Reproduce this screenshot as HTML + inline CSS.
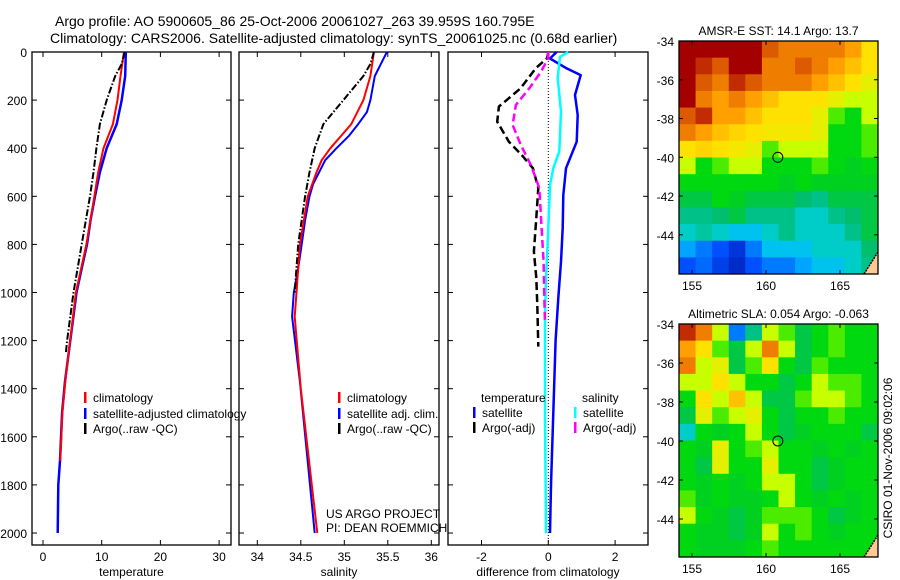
<!DOCTYPE html>
<html><head><meta charset="utf-8">
<style>
html,body{margin:0;padding:0;background:#fff;}
svg{display:block;font-family:"Liberation Sans",sans-serif;}
text{fill:#000;}
</style></head>
<body>
<svg id="fig" width="900" height="580" viewBox="0 0 900 580" xmlns="http://www.w3.org/2000/svg">
<text x="55" y="26" font-size="14">Argo profile: AO 5900605_86 25-Oct-2006 20061027_263 39.959S 160.795E</text>
<text x="50" y="43" font-size="14">Climatology: CARS2006. Satellite-adjusted climatology: synTS_20061025.nc (0.68d earlier)</text>
<g id="layer"></g>
</svg>
<script>
// ---------- Temperature panel data ----------
const tDepthBlue = [0,100,200,300,400,500,600,700,800,900,1000,1370,1500,1700,1800,2000];
const tBlue      = [14.1,14.0,13.4,12.55,10.85,9.7,8.86,8.1,7.5,6.6,5.7,3.75,3.25,2.9,2.6,2.5];
const tDepthRed  = [0,100,200,300,400,500,600,800,1000,1370,1500,1700];
const tRed       = [13.8,13.2,12.7,11.9,10.3,9.4,8.75,7.4,5.6,3.8,3.3,2.95];
const tDepthArgo = [0,50,100,200,300,400,500,600,800,1000,1200,1250];
const tArgo      = [13.9,13.4,12.3,10.85,9.7,9.1,8.6,8.0,6.6,5.2,4.1,3.9];
const tTicks = [0,10,20,30];
const depthTicks = [0,200,400,600,800,1000,1200,1400,1600,1800,2000];
// ---------- Salinity panel data ----------
const sDepthBlue = [0,100,200,250,300,350,400,450,500,550,600,700,800,900,1000,1100,1370,2000];
const sBlue      = [35.49,35.35,35.30,35.26,35.16,35.05,34.91,34.78,34.71,34.64,34.60,34.55,34.51,34.47,34.42,34.40,34.49,34.66];
const sDepthRed  = [0,100,200,300,400,450,500,600,800,1000,1100,1400,2000];
const sRed       = [35.34,35.30,35.22,35.08,34.84,34.74,34.68,34.58,34.49,34.45,34.43,34.5,34.69];
const sDepthArgo = [0,50,100,200,300,400,500,600,800,1000];
const sArgo      = [35.34,35.30,35.22,34.99,34.76,34.66,34.60,34.55,34.47,34.43];
const sTicks = [34,34.5,35,35.5,36];
// ---------- Difference panel data ----------
const dDepthTS = [0,27,68,96,179,262,373,442,483,595,732,872,1023,1200,1500,1800,2000];
const dTSat    = [0.25,0.05,0.55,0.97,0.8,0.88,0.85,0.65,0.53,0.45,0.43,0.38,0.3,0.22,0.15,0.08,0.05];
const dDepthSS = [0,20,108,248,414,483,553,732,940,1100,1500,2000];
const dSSat    = [0.6,0.35,0.28,0.38,0.33,0.15,0.05,0,-0.07,-0.1,-0.1,-0.07];
const dDepthTA = [0,25,68,151,227,290,373,428,483,566,690,830,940,1052,1225];
const dTArgo   = [0,-0.03,-0.38,-0.83,-1.48,-1.53,-1.18,-0.8,-0.46,-0.3,-0.36,-0.43,-0.36,-0.33,-0.3];
const dDepthSA = [0,25,82,151,220,303,387,470,566,732,872,1023,1128];
const dSArgo   = [0,0,-0.22,-0.57,-0.97,-1.07,-0.82,-0.52,-0.27,-0.2,-0.14,-0.12,-0.1];
const dTicks = [-2,0,2];
// ---------- Map data (12 cols x 14 rows, normalized colour value) ----------
const sstGrid = [
[1,1,1,1,1,.9,.85,.85,.85,.85,.8,.7],
[1,.95,.9,1,1,.85,.85,.9,.85,.8,.75,.7],
[1,.9,.85,.95,.9,.85,.85,.85,.8,.75,.7,.65],
[1,.85,.8,.85,.8,.75,.7,.7,.7,.65,.6,.6],
[.9,.95,.8,.8,.75,.7,.7,.7,.65,.55,.5,.6],
[.85,.8,.75,.72,.7,.68,.68,.68,.65,.5,.5,.55],
[.7,.72,.7,.68,.65,.55,.6,.6,.6,.5,.5,.55],
[.6,.5,.55,.6,.6,.5,.5,.5,.55,.5,.48,.5],
[.5,.5,.5,.5,.5,.5,.48,.5,.48,.48,.48,.48],
[.45,.45,.5,.48,.45,.45,.45,.42,.4,.45,.45,.45],
[.4,.4,.42,.45,.4,.4,.4,.35,.35,.4,.42,.45],
[.35,.38,.35,.3,.3,.35,.4,.35,.35,.35,.4,.45],
[.25,.2,.15,.1,.2,.3,.3,.3,.35,.35,.35,.42],
[.15,.18,.12,.08,.15,.2,.2,.25,.3,.3,.35,.4]];
const slaGrid = [
[.95,.85,.6,.2,.4,.6,.55,.45,.5,.55,.5,.5],
[.8,.7,.55,.45,.6,.85,.6,.45,.5,.55,.5,.5],
[.85,.6,.65,.45,.55,.7,.5,.45,.55,.5,.5,.5],
[.6,.6,.7,.6,.5,.5,.45,.5,.6,.55,.55,.5],
[.5,.7,.6,.75,.6,.45,.45,.55,.6,.6,.55,.5],
[.45,.65,.55,.6,.65,.5,.45,.5,.5,.55,.5,.5],
[.35,.5,.48,.5,.6,.5,.45,.48,.5,.5,.5,.45],
[.5,.48,.65,.5,.55,.6,.5,.5,.48,.5,.48,.5],
[.5,.45,.65,.5,.5,.65,.5,.5,.45,.48,.5,.5],
[.5,.48,.5,.48,.5,.6,.6,.5,.45,.48,.5,.5],
[.55,.48,.5,.48,.48,.5,.6,.5,.48,.5,.48,.5],
[.6,.5,.48,.45,.48,.55,.55,.55,.5,.45,.48,.5],
[.5,.48,.48,.45,.48,.6,.5,.55,.5,.48,.5,.5],
[.5,.48,.48,.48,.5,.55,.5,.5,.5,.5,.5,.5]];
const lonTicks = [155,160,165];
const latTicks = [-34,-36,-38,-40,-42,-44];
const argoLon = 160.8, argoLat = -40;

const NS='http://www.w3.org/2000/svg';
const L=document.getElementById('layer');
function mk(tag,attrs,parent){const e=document.createElementNS(NS,tag);for(const k in attrs)e.setAttribute(k,attrs[k]);(parent||L).appendChild(e);return e;}
function txt(x,y,s,size,anchor,parent){const t=mk('text',{x:x,y:y,'font-size':size||12,'text-anchor':anchor||'start'},parent);t.textContent=s;return t;}

const yD = d => 52 + d*0.2405;
function panel(name,x0,x1,xs,ticks,fmt,showY,xlabel){
  const g=mk('g',{});
  
  
  mk('rect',{x:x0,y:52,width:x1-x0,height:493,fill:'none',stroke:'#000','stroke-width':1.3},g);
  ticks.forEach(v=>{const x=xs(v);mk('line',{x1:x,x2:x,y1:545,y2:540,stroke:'#000'},g);mk('line',{x1:x,x2:x,y1:52,y2:57,stroke:'#000'},g);
    const t=txt(x,561,fmt(v),12,'middle',g);});
  depthTicks.forEach(d=>{const y=yD(d);mk('line',{x1:x0,x2:x0+5,y1:y,y2:y,stroke:'#000'},g);mk('line',{x1:x1,x2:x1-5,y1:y,y2:y,stroke:'#000'},g);
    if(showY){const t=txt(27,y+5,String(d),12,'end',g);}});
  const xl=txt((x0+x1)/2,576,xlabel,12,'middle',g);
  
  
  return g;
}
function series(name,depths,vals,xs,color,w,dash){
  const pts=depths.map((d,i)=>xs(vals[i]).toFixed(1)+','+yD(d).toFixed(1)).join(' ');
  const p=mk('polyline',{points:pts,fill:'none',stroke:color,'stroke-width':w,'stroke-dasharray':dash||'none','stroke-linejoin':'round'});
  
  
}
function legend(name,x,y,color,label){
  const g=mk('g',{});
  
  
  mk('rect',{x:x,y:y-10,width:2.5,height:11,fill:color},g);
  txt(x+9,y,label,12,'start',g);
}

// Temperature
const xT = v => 43 + v*5.87;
panel('temperature-panel',32,231,xT,tTicks,v=>String(v),true,'temperature');
series('temp-satellite-adjusted-climatology',tDepthBlue,tBlue,xT,'#0000ff',2.5);
series('temp-climatology',tDepthRed,tRed,xT,'#ff0000',2);
series('temp-argo-raw',tDepthArgo,tArgo,xT,'#000',2,'7,2,1.5,2');
legend('legend-climatology',84,402,'#ff0000','climatology');
legend('legend-satellite-adjusted-climatology',84,418,'#0000ff','satellite-adjusted climatology');
legend('legend-argo-raw',84,433,'#000','Argo(..raw -QC)');

// Salinity
const xS = v => 257.3 + (v-34)*87;
panel('salinity-panel',239,439,xS,sTicks,v=>String(v),false,'salinity');
series('sal-satellite-adjusted-climatology',sDepthBlue,sBlue,xS,'#0000ff',2);
series('sal-climatology',sDepthRed,sRed,xS,'#ff0000',2);
series('sal-argo-raw',sDepthArgo,sArgo,xS,'#000',2,'7,2,1.5,2');
legend('legend-sal-climatology',338,402,'#ff0000','climatology');
legend('legend-sal-satellite',338,418,'#0000ff','satellite adj. clim.');
legend('legend-sal-argo',338,433,'#000','Argo(..raw -QC)');
const c1=txt(326,518,'US ARGO PROJECT',12);
const c2=txt(326,532,'PI: DEAN ROEMMICH',12);

// Difference
const xDf = v => 548.3 + v*33.4;
panel('difference-panel',448,648,xDf,dTicks,v=>String(v),false,'difference from climatology');
const zl=mk('line',{x1:xDf(0),x2:xDf(0),y1:52,y2:545,stroke:'#000','stroke-dasharray':'1,2'});


series('diff-temp-satellite',dDepthTS,dTSat,xDf,'#0000ff',2.5);
series('diff-sal-satellite',dDepthSS,dSSat,xDf,'#00ffff',2.5);
series('diff-temp-argo',dDepthTA,dTArgo,xDf,'#000',2.5,'8,4');
series('diff-sal-argo',dDepthSA,dSArgo,xDf,'#ff00ff',2.5,'8,4');
const lt=txt(481,402,'temperature',12);
const ls=txt(582,402,'salinity',12);
legend('legend-diff-temp-sat',473,417,'#0000ff','satellite');
legend('legend-diff-temp-argo',473,432,'#000','Argo(-adj)');
legend('legend-diff-sal-sat',574,417,'#00ffff','satellite');
legend('legend-diff-sal-argo',574,432,'#ff00ff','Argo(-adj)');

// Colormap
const stops=[[0,[0,0,140]],[0.15,[0,80,255]],[0.28,[0,190,255]],[0.35,[0,205,200]],[0.42,[0,190,110]],[0.47,[0,205,40]],[0.52,[0,225,0]],[0.6,[200,255,0]],[0.7,[255,225,0]],[0.8,[255,160,0]],[0.9,[220,90,0]],[1,[165,0,0]]];
function cmap(v){for(let i=1;i<stops.length;i++){if(v<=stops[i][0]){const a=stops[i-1],b=stops[i],t=(v-a[0])/(b[0]-a[0]);return 'rgb('+a[1].map((c,k)=>Math.round(c+(b[1][k]-c)*t)).join(',')+')';}}return 'rgb(165,0,0)';}

function map(name,grid,top,latTop,pxPerLat,title){
  const x0=679,x1=878,bot=top+233;
  const g=mk('g',{});
  
  
  const rows=grid.length,cols=grid[0].length,cw=(x1-x0)/cols,ch=(bot-top)/rows;
  grid.forEach((row,r)=>row.forEach((v,c)=>{
    const cell=mk('rect',{x:(x0+c*cw).toFixed(2),y:(top+r*ch).toFixed(2),width:(cw+0.5).toFixed(2),height:(ch+0.5).toFixed(2),fill:cmap(v)},g);
    
    
  }));
  mk('polygon',{points:`${x1-14},${bot} ${x1},${bot-22} ${x1},${bot}`,fill:'#ffc896'},g);
  mk('polyline',{points:`${x1-14},${bot} ${x1},${bot-22}`,fill:'none',stroke:'#000','stroke-width':1.5,'stroke-dasharray':'2,1'},g);
  mk('rect',{x:x0,y:top,width:x1-x0,height:bot-top,fill:'none',stroke:'#000','stroke-width':1.3},g);
  const xl=v=>692+(v-155)*14.8, yl=v=>top+(latTop-v)*pxPerLat;
  lonTicks.forEach(v=>{const x=xl(v);mk('line',{x1:x,x2:x,y1:bot,y2:bot-4,stroke:'#000'},g);mk('line',{x1:x,x2:x,y1:top,y2:top+4,stroke:'#000'},g);txt(x,bot+16,String(v),12,'middle',g);});
  latTicks.forEach(v=>{const y=yl(v);mk('line',{x1:x0,x2:x0+4,y1:y,y2:y,stroke:'#000'},g);mk('line',{x1:x1,x2:x1-4,y1:y,y2:y,stroke:'#000'},g);txt(x0-5,y+5,String(v),12,'end',g);});
  const m=mk('circle',{cx:xl(argoLon),cy:yl(argoLat),r:5,fill:'none',stroke:'#000','stroke-width':1},g);
  
  
  const t=txt((x0+x1)/2,top-6,title,12,'middle',g);
  
  
}
map('sst-map',sstGrid,41,-34,19.38,'AMSR-E SST: 14.1 Argo: 13.7');
map('sla-map',slaGrid,324,-34,19.5,'Altimetric SLA: 0.054 Argo: -0.063');
const stamp=txt(0,0,'CSIRO 01-Nov-2006 09:02:06',12,'middle');
stamp.setAttribute('transform','translate(892,458) rotate(-90)');


</script>
</body></html>
